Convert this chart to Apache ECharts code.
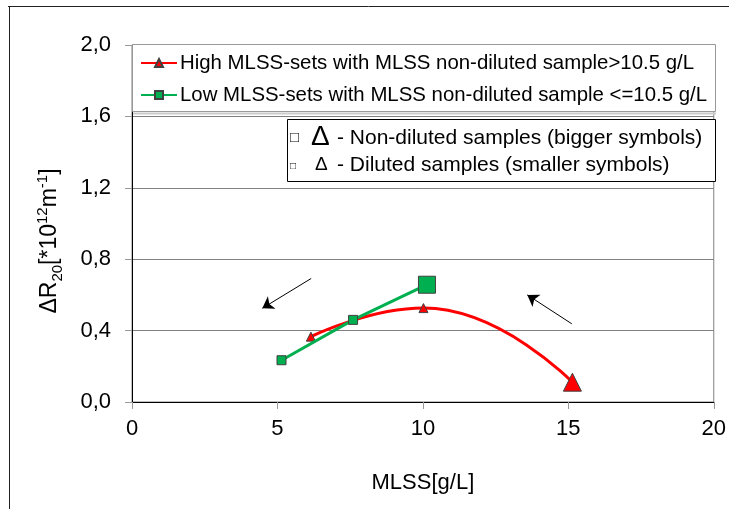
<!DOCTYPE html>
<html>
<head>
<meta charset="utf-8">
<script src="https://cdn.jsdelivr.net/npm/echarts@6/dist/echarts.min.js"></script>
<style>
html,body{margin:0;padding:0;background:#fff;}
#chart{width:729px;height:509px;}
</style>
</head>
<body>
<div id="chart"></div>
<script>
// ---- data ----
var highName = 'High MLSS-sets with MLSS non-diluted sample>10.5 g/L';
var highX = [6.15, 10.02, 15.14];
var highY = [0.366, 0.526, 0.111];
var highNonDiluted = [false, false, true];

var lowName = 'Low MLSS-sets with MLSS non-diluted sample <=10.5 g/L';
var lowX = [5.14, 7.60, 10.14];
var lowY = [0.234, 0.460, 0.657];
var lowNonDiluted = [false, false, true];

// annotation arrows: [fromX, fromY, toX, toY]
var arrows = [
  [6.16, 0.692, 4.48, 0.525],
  [15.12, 0.438, 13.59, 0.600]
];

var xTicks = [0, 5, 10, 15, 20];
var yTicks = [0, 0.4, 0.8, 1.2, 1.6, 2.0];

// ---- chart ----
var FONT = '"Liberation Sans", Arial, sans-serif';
function pts(xs, ys, flags, big, small) {
  return xs.map(function (x, i) {
    return { value: [x, ys[i]], symbolSize: flags[i] ? big : small };
  });
}

var chart = echarts.init(document.getElementById('chart'), null, { renderer: 'canvas' });
var option = {
  animation: false,
  backgroundColor: '#ffffff',
  textStyle: { fontFamily: FONT },
  grid: { left: 132, right: 13, top: 45, bottom: 107, show: true, borderColor: '#808080', borderWidth: 1 },
  xAxis: {
    type: 'value', min: xTicks[0], max: xTicks[xTicks.length - 1], interval: 5,
    name: 'MLSS[g/L]', nameLocation: 'middle', nameGap: 70,
    nameTextStyle: { fontSize: 22, color: '#000', fontFamily: FONT },
    axisLine: { show: true, onZero: false, lineStyle: { color: '#000', width: 1 } },
    axisTick: { show: true, length: 7, lineStyle: { color: '#999' } },
    axisLabel: { fontSize: 22, color: '#000', margin: 16, fontFamily: FONT },
    splitLine: { show: false }
  },
  yAxis: {
    type: 'value', min: yTicks[0], max: yTicks[yTicks.length - 1], interval: 0.4,
    axisLine: { show: true, lineStyle: { color: '#000', width: 1 } },
    axisTick: { show: true, length: 7, lineStyle: { color: '#999' } },
    axisLabel: { fontSize: 22, color: '#000', margin: 21, fontFamily: FONT,
      formatter: function (v) { return v.toFixed(1).replace('.', ','); } },
    splitLine: { show: true, lineStyle: { color: '#808080', width: 1 } }
  },
  legend: {
    data: [highName, lowName],
    orient: 'vertical', left: 140, top: 53, padding: 0, itemGap: 12,
    itemWidth: 36, itemHeight: 10,
    textStyle: { fontSize: 20.4, color: '#000', fontFamily: FONT, padding: [0, 0, 0, -2] },
    z: 10
  },
  graphic: [
    { type: 'line', shape: { x1: 8, y1: 6.5, x2: 729, y2: 6.5 }, style: { stroke: '#222', lineWidth: 1 }, z: 100 },
    { type: 'line', shape: { x1: 9.5, y1: 6, x2: 9.5, y2: 509 }, style: { stroke: '#222', lineWidth: 1 }, z: 100 },
    // legend box
    { type: 'rect', shape: { x: 132.5, y: 44.5, width: 583, height: 67 },
      style: { fill: '#fff', stroke: '#999', lineWidth: 1 }, z: 5 },
    { type: 'line', shape: { x1: 133, y1: 113.5, x2: 716, y2: 113.5 }, style: { stroke: '#ccc', lineWidth: 2 }, z: 5 },
    // symbol-size note box
    { type: 'rect', shape: { x: 287.5, y: 119.5, width: 428, height: 62 },
      style: { fill: '#fff', stroke: '#000', lineWidth: 1 }, z: 5 },
    { type: 'text', x: 290, y: 138, z: 6, style: { text: '\u25A1', font: '15px ' + FONT, fill: '#000', textVerticalAlign: 'middle' } },
    { type: 'text', x: 311, y: 137, z: 6, style: { text: '\u0394', font: '28px ' + FONT, fill: '#000', textVerticalAlign: 'middle' } },
    { type: 'text', x: 337, y: 138, z: 6, style: { text: '- Non-diluted samples (bigger symbols)', font: '21px ' + FONT, fill: '#000', textVerticalAlign: 'middle' } },
    { type: 'text', x: 290, y: 166, z: 6, style: { text: '\u25A1', font: '10px ' + FONT, fill: '#000', textVerticalAlign: 'middle' } },
    { type: 'text', x: 315, y: 165, z: 6, style: { text: '\u0394', font: '19px ' + FONT, fill: '#000', textVerticalAlign: 'middle' } },
    { type: 'text', x: 337, y: 165, z: 6, style: { text: '- Diluted samples (smaller symbols)', font: '21px ' + FONT, fill: '#000', textVerticalAlign: 'middle' } },
    // y axis title
    { type: 'text', x: 50, y: 241, rotation: Math.PI / 2, z: 6,
      style: {
        text: '{b|\u0394R}{sub|20}{b|[*10}{sup|12}{b|m}{sup|-1}{b|]}',
        textAlign: 'center', textVerticalAlign: 'middle',
        rich: {
          b: { fontSize: 23, fontFamily: FONT, fill: '#000', lineHeight: 30 },
          sub: { fontSize: 15, fontFamily: FONT, fill: '#000', lineHeight: 15, verticalAlign: 'bottom' },
          sup: { fontSize: 15, fontFamily: FONT, fill: '#000', lineHeight: 15, verticalAlign: 'top' }
        }
      } }
  ],
  series: [
    {
      name: highName, type: 'line', smooth: 0.5, symbol: 'triangle',
      data: pts(highX, highY, highNonDiluted, 18, 9),
      lineStyle: { color: '#ff0000', width: 3 },
      itemStyle: { color: '#ff0000', borderColor: '#404040', borderWidth: 1 },
      z: 3
    },
    {
      name: lowName, type: 'line', symbol: 'rect',
      data: pts(lowX, lowY, lowNonDiluted, 17, 9),
      lineStyle: { color: '#00b050', width: 3 },
      itemStyle: { color: '#00b050', borderColor: '#404040', borderWidth: 1 },
      z: 4
    },
    {
      name: 'arrows', type: 'line', data: [], silent: true,
      markLine: {
        silent: true, symbol: ['none', 'arrow'], symbolSize: 11,
        label: { show: false },
        lineStyle: { color: '#000', width: 1, type: 'solid' },
        emphasis: { disabled: true },
        data: arrows.map(function (a) { return [{ coord: [a[0], a[1]] }, { coord: [a[2], a[3]] }]; })
      }
    }
  ]
};
chart.setOption(option);
</script>
</body>
</html>
